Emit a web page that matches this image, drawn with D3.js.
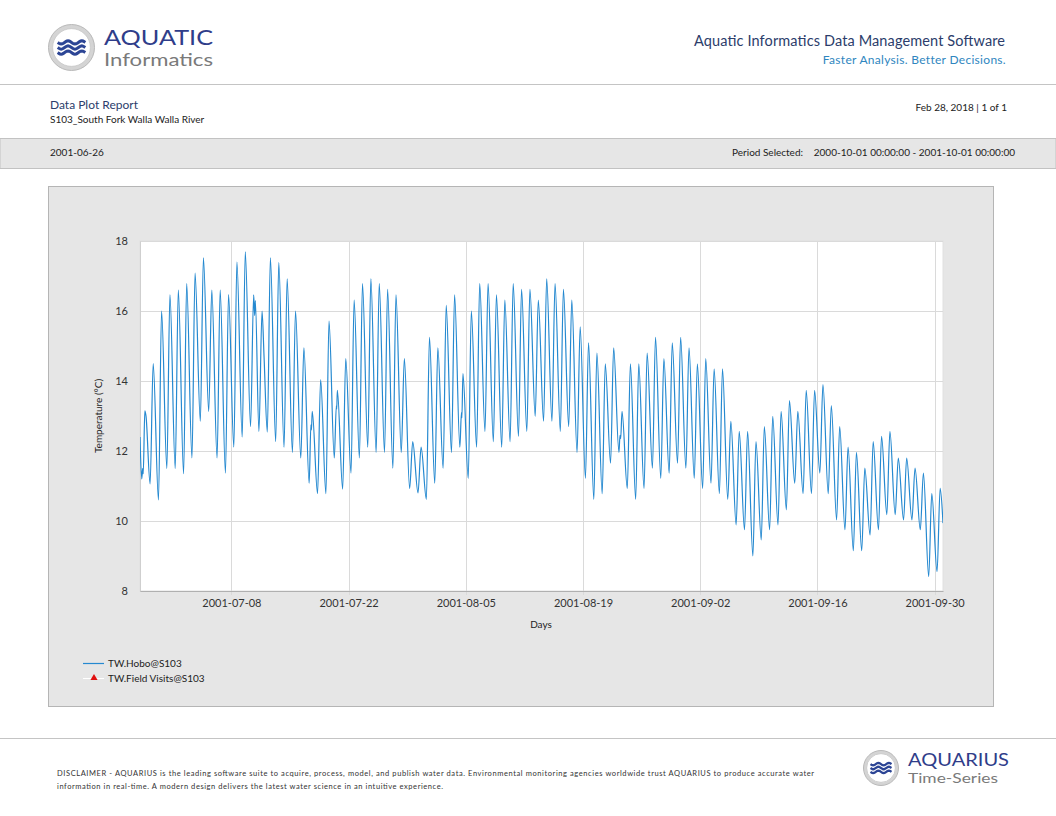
<!DOCTYPE html>
<html>
<head>
<meta charset="utf-8">
<script src="https://cdn.jsdelivr.net/npm/d3@7/dist/d3.min.js"></script>
<style>
  html, body { margin: 0; padding: 0; background: #fff; }
  svg { display: block; }
  text { font-family: Lato, "Liberation Sans", sans-serif; }
</style>
</head>
<body>
<svg id="page" width="1056" height="816"></svg>
<script>
// ---------------- DATA ----------------
const seriesStart = "2001-06-27T00:00:00";      // day 0
const domainStart = "2001-06-27T02:00:00";
const domainEnd   = "2001-10-01T00:00:00";
const startValue = 12.4;
const endValue = 9.94;
// daily minimum (early morning) and maximum (afternoon) water temperature, °C
const dailyMin = [
  11.2, 11.06, 10.6, 11.5, 11.5, 11.35, 11.8, 12.85, 13.13, 11.8,
  11.37, 12.11, 12.4, 12.7, 12.56, 12.54, 12.27, 12.11, 11.96, 11.8,
  11.08, 10.78, 10.78, 11.8, 10.91, 11.37, 11.8, 12.11, 11.96, 11.96,
  11.51, 11.96, 10.93, 10.8, 10.62, 11.08, 11.51, 11.96, 12.11, 11.22,
  12.11, 12.56, 12.27, 12.11, 12.27, 12.42, 12.56, 12.99, 12.85, 12.85,
  12.56, 12.7, 11.96, 11.22, 10.62, 10.78, 11.65, 11.96, 10.93, 10.62,
  10.93, 11.51, 11.22, 11.37, 11.65, 11.51, 11.22, 10.93, 11.08, 10.78,
  10.62, 9.89, 9.75, 9.0, 9.46, 9.75, 9.89, 10.32, 11.08, 10.78,
  10.78, 11.37, 10.78, 10.03, 9.75, 9.15, 9.15, 9.6, 9.75, 10.18,
  10.18, 10.03, 10.03, 9.75, 8.41, 8.55
];
const dailyMax = [
  13.15, 14.5, 16.0, 16.46, 16.6, 16.78, 17.08, 17.52, 16.6, 16.6,
  16.47, 17.4, 17.69, 16.46, 16.0, 17.52, 17.38, 16.92, 16.0, 14.95,
  13.13, 14.04, 15.71, 13.73, 14.64, 16.31, 16.78, 16.92, 16.78, 16.62,
  16.46, 14.64, 12.27, 12.11, 15.25, 14.95, 16.16, 16.46, 14.21, 16.0,
  16.78, 16.78, 16.46, 16.31, 16.78, 16.62, 16.62, 16.31, 16.92, 16.78,
  16.62, 16.31, 15.55, 15.09, 14.8, 14.49, 14.95, 13.13, 14.49, 14.49,
  14.8, 15.25, 14.64, 15.09, 15.25, 14.95, 14.49, 14.64, 14.35, 14.35,
  12.85, 12.56, 12.56, 12.27, 12.7, 12.99, 13.13, 13.44, 13.13, 13.73,
  13.73, 13.9, 13.3, 12.7, 12.11, 11.96, 11.51, 12.27, 12.42, 12.56,
  11.8, 11.8, 11.51, 11.37, 10.78, 10.93
];
// small irregularities: [day offset, value]
const extraPoints = [
  [0.40, 11.5], [0.47, 11.35], [0.80, 13.0],
  [13.78, 15.87], [13.86, 16.3], [14.9, 14.7],
  [20.5, 12.75], [20.56, 12.6], [23.54, 13.3], [23.58, 13.2],
  [38.48, 13.1], [38.53, 12.95], [57.42, 12.45], [57.5, 12.35]
];
const minHour = 0.29, maxHour = 0.66; // fraction of day of extremes
const xTickDates = ["2001-07-08","2001-07-22","2001-08-05","2001-08-19","2001-09-02","2001-09-16","2001-09-30"];
const yTicks = [8, 10, 12, 14, 16, 18];
const seriesName = "TW.Hobo@S103";
const visitsName = "TW.Field Visits@S103";

// ---------------- DRAW ----------------
const svg = d3.select("#page");
const DAY = 86400000;
const t0 = new Date(seriesStart).getTime();
const atDay = d => new Date(t0 + d * DAY);

let pts = [[new Date(domainStart), startValue]];
dailyMin.forEach((v, i) => pts.push([atDay(i + minHour), v]));
dailyMax.forEach((v, i) => pts.push([atDay(i + maxHour), v]));
extraPoints.forEach(p => pts.push([atDay(p[0]), p[1]]));
pts.push([new Date(domainEnd), endValue]);
pts.sort((a, b) => a[0] - b[0]);

// header
function logo(g, cx, cy, r) {
  g.append("circle").attr("cx", cx).attr("cy", cy).attr("r", r).attr("fill", "#d4d4d4").attr("stroke", "#b9b9b9").attr("stroke-width", 1);
  g.append("circle").attr("cx", cx).attr("cy", cy).attr("r", r * 0.82).attr("fill", "#fff").attr("stroke", "#c6c6c6").attr("stroke-width", 0.8);
  const w = r * 0.6;
  [-r * 0.22, 0, r * 0.22].forEach(dy => {
    const p = d3.path();
    const n = 24;
    for (let i = 0; i <= n; i++) {
      const x = cx - w + (2 * w) * i / n;
      const y = cy + dy + Math.sin(i / n * Math.PI * 4) * r * 0.07;
      if (i === 0) p.moveTo(x, y); else p.lineTo(x, y);
    }
    g.append("path").attr("d", p.toString()).attr("fill", "none").attr("stroke", "#2c4595").attr("stroke-width", r * 0.13);
  });
}
logo(svg.append("g"), 71.5, 47.5, 23);
svg.append("text").attr("x", 104).attr("y", 44.5).attr("font-family", "'Liberation Serif', 'DejaVu Serif', serif")
  .attr("font-size", 22).attr("fill", "#2f3d8a").attr("textLength", 109).attr("lengthAdjust", "spacingAndGlyphs").text("AQUATIC");
svg.append("text").attr("x", 104).attr("y", 66).attr("font-family", "'Liberation Sans', sans-serif")
  .attr("font-size", 18).attr("fill", "#7a7a7a")
  .attr("textLength", 109).attr("lengthAdjust", "spacingAndGlyphs").text("Informatics");

svg.append("text").attr("x", 1005).attr("y", 46).attr("text-anchor", "end").attr("font-size", 14.5).attr("fill", "#2c3d6b")
  .attr("textLength", 311).attr("lengthAdjust", "spacing")
  .text("Aquatic Informatics Data Management Software");
svg.append("text").attr("x", 1006).attr("y", 64).attr("text-anchor", "end").attr("font-size", 12).attr("fill", "#2f86c0")
  .attr("letter-spacing", 0.3).text("Faster Analysis. Better Decisions.");

svg.append("line").attr("x1", 0).attr("x2", 1056).attr("y1", 84.5).attr("y2", 84.5).attr("stroke", "#c4c4c4");

svg.append("text").attr("x", 50).attr("y", 109).attr("font-size", 12).attr("fill", "#2c3d6b").text("Data Plot Report");
svg.append("text").attr("x", 50).attr("y", 123).attr("font-size", 10).attr("fill", "#222").text("S103_South Fork Walla Walla River");
svg.append("text").attr("x", 1007).attr("y", 111).attr("text-anchor", "end").attr("font-size", 10).attr("fill", "#222").text("Feb 28, 2018 | 1 of 1");

svg.append("rect").attr("x", 0).attr("y", 138.5).attr("width", 1056).attr("height", 30).attr("fill", "#e6e6e6").attr("stroke", "#c2c2c2");
svg.append("text").attr("x", 50).attr("y", 156).attr("font-size", 10).attr("fill", "#222").text("2001-06-26");
svg.append("text").attr("x", 803).attr("y", 156).attr("text-anchor", "end").attr("font-size", 10).attr("fill", "#222").text("Period Selected:");
svg.append("text").attr("x", 1015).attr("y", 156).attr("text-anchor", "end").attr("font-size", 10).attr("fill", "#222").text("2000-10-01 00:00:00 - 2001-10-01 00:00:00");

// chart panel
svg.append("rect").attr("x", 48.5).attr("y", 186.5).attr("width", 945).attr("height", 520).attr("fill", "#e6e6e6").attr("stroke", "#b5b5b5");

const L = 140, R = 943, T = 241, B = 591;
const x = d3.scaleTime().domain([new Date(domainStart), new Date(domainEnd)]).range([L, R]);
const y = d3.scaleLinear().domain([8, 18]).range([B, T]);

svg.append("rect").attr("x", L).attr("y", T).attr("width", R - L).attr("height", B - T).attr("fill", "#fff").attr("stroke", "#e0e0e0");

const grid = svg.append("g");
grid.selectAll("line.h").data(yTicks).join("line").attr("class", "h")
  .attr("x1", L).attr("x2", R).attr("y1", d => Math.round(y(d)) + 0.5).attr("y2", d => Math.round(y(d)) + 0.5)
  .attr("stroke", "#dadada").attr("stroke-width", 1);
const xDates = xTickDates.map(s => new Date(s + "T00:00:00"));
grid.selectAll("line.v").data(xDates).join("line").attr("class", "v")
  .attr("x1", d => Math.round(x(d)) + 0.5).attr("x2", d => Math.round(x(d)) + 0.5).attr("y1", T).attr("y2", B + 4)
  .attr("stroke", "#dadada").attr("stroke-width", 1);

// axes
const yAxis = svg.append("g").attr("transform", `translate(${L},0)`)
  .call(d3.axisLeft(y).tickValues(yTicks).tickSize(0).tickPadding(12).tickFormat(d3.format("d")));
yAxis.select(".domain").attr("stroke", "#cfcfcf");
yAxis.selectAll("text").attr("font-size", 11).attr("fill", "#333").attr("font-family", "Lato, sans-serif");

const xAxis = svg.append("g").attr("transform", `translate(0,${B})`)
  .call(d3.axisBottom(x).tickValues(xDates).tickSize(0).tickPadding(8).tickFormat(d3.timeFormat("%Y-%m-%d")));
xAxis.select(".domain").attr("stroke", "#b0b0b0");
xAxis.selectAll("text").attr("font-size", 11).attr("fill", "#333").attr("font-family", "Lato, sans-serif");

svg.append("text").attr("transform", "translate(102,416) rotate(-90)").attr("text-anchor", "middle")
  .attr("font-size", 10).attr("fill", "#222").text("Temperature (°C)");
svg.append("text").attr("x", 541).attr("y", 628).attr("text-anchor", "middle").attr("font-size", 10).attr("fill", "#222").text("Days");

// series
svg.append("defs").append("clipPath").attr("id", "clip").append("rect").attr("x", L).attr("y", T - 2).attr("width", R - L).attr("height", B - T + 4);
const line = d3.line().x(d => x(d[0])).y(d => y(d[1])).curve(d3.curveMonotoneX);
svg.append("path").datum(pts).attr("clip-path", "url(#clip)").attr("d", line)
  .attr("fill", "none").attr("stroke", "#2589d0").attr("stroke-width", 1.2).attr("stroke-linejoin", "round");

// legend
svg.append("line").attr("x1", 83).attr("x2", 104).attr("y1", 663.5).attr("y2", 663.5).attr("stroke", "#2589d0").attr("stroke-width", 1.2);
svg.append("text").attr("x", 108).attr("y", 667).attr("font-size", 10).attr("fill", "#222").text(seriesName);
svg.append("line").attr("x1", 83).attr("x2", 104).attr("y1", 678.5).attr("y2", 678.5).attr("stroke", "#fff").attr("stroke-width", 1);
svg.append("path").attr("d", d3.symbol().type(d3.symbolTriangle).size(22)()).attr("transform", "translate(94,678)").attr("fill", "#e01010");
svg.append("text").attr("x", 108).attr("y", 681.5).attr("font-size", 10).attr("fill", "#222").text(visitsName);

// footer
svg.append("line").attr("x1", 0).attr("x2", 1056).attr("y1", 738.5).attr("y2", 738.5).attr("stroke", "#c4c4c4");
svg.append("text").attr("x", 57).attr("y", 776).attr("font-size", 7.5).attr("fill", "#333")
  .attr("textLength", 757).attr("lengthAdjust", "spacing")
  .text("DISCLAIMER - AQUARIUS is the leading software suite to acquire, process, model, and publish water data. Environmental monitoring agencies worldwide trust AQUARIUS to produce accurate water");
svg.append("text").attr("x", 57).attr("y", 789).attr("font-size", 7.5).attr("fill", "#333")
  .attr("textLength", 386).attr("lengthAdjust", "spacing")
  .text("information in real-time. A modern design delivers the latest water science in an intuitive experience.");
logo(svg.append("g"), 881, 768, 17.5);
svg.append("text").attr("x", 908).attr("y", 766).attr("font-family", "'Liberation Serif', 'DejaVu Serif', serif")
  .attr("font-size", 18).attr("fill", "#2f3d8a").attr("textLength", 101).attr("lengthAdjust", "spacingAndGlyphs").text("AQUARIUS");
svg.append("text").attr("x", 908).attr("y", 783).attr("font-family", "'Liberation Sans', sans-serif")
  .attr("font-size", 14).attr("fill", "#7a7a7a")
  .attr("textLength", 90).attr("lengthAdjust", "spacingAndGlyphs").text("Time-Series");
</script>
</body>
</html>
